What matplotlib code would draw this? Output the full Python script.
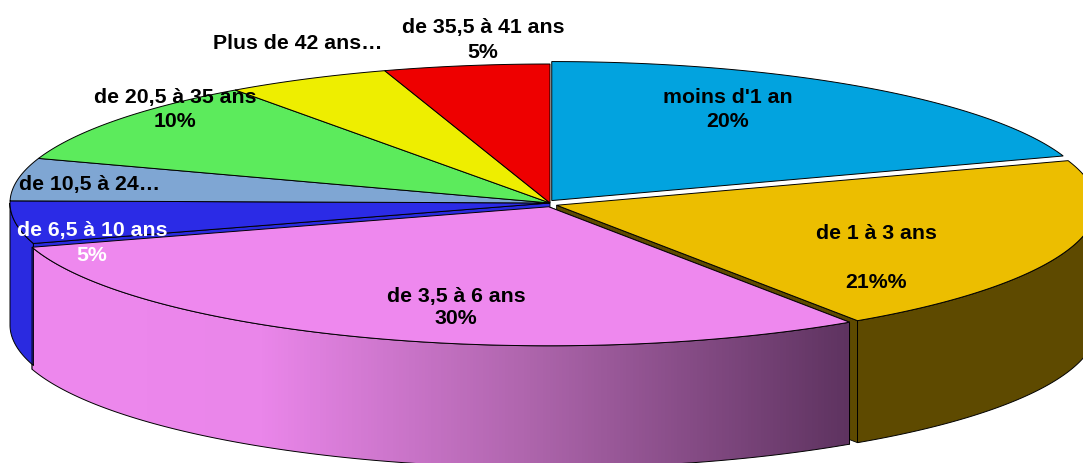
import numpy as np
import matplotlib.pyplot as plt
from matplotlib.patches import Polygon
import matplotlib.colors as mcolors

# 3D pie of age groups, drawn by hand (matplotlib has no 3D pie)

labels = ["moins d'1 an", "de 1 à 3 ans", "de 3,5 à 6 ans", "de 6,5 à 10 ans",
          "de 10,5 à 24…", "de 20,5 à 35 ans", "Plus de 42 ans…", "de 35,5 à 41 ans"]
values = [20, 21, 30, 5, 5, 10, 5, 5]
pct_text = ["20%", "21%%", "30%", "5%", "", "10%", "", "5%"]

top_colors = ["#02A3DF", "#ECBE00", "#EE88EE", "#2B2BE6",
              "#7FA6D3", "#5CEB5C", "#EEEE00", "#EE0000"]
side_colors = ["#015E82", "#5E4A00", "#EE88EE", "#2A2AE0",
               "#4A6A90", "#339933", "#8A8A00", "#8A0000"]
text_colors = ["black", "black", "black", "white", "black", "black", "black", "black"]

# layout (pixel space of the output image)
W, H = 1083, 463
cx, cy = 550, 203
a, b = 540, 139
depth = 122
explode = [3, 7, 4, 0, 0, 0, 0, 0]
# (x centre, baseline of name, baseline of percent)
label_pos = [(728, 103, 127), (876, 239, 288), (456, 302, 324), (92, 236, 261),
             (90, 190, None), (175, 103, 127), (298, 49, None), (483, 33, 58)]

fig = plt.figure(figsize=(W / 100, H / 100), dpi=100)
ax = fig.add_axes([0, 0, 1, 1])
ax.set_xlim(0, W)
ax.set_ylim(H, 0)
ax.axis("off")

total = float(sum(values))
cum = np.concatenate([[0], np.cumsum(values)])
starts = 90 - 360 * cum[:-1] / total
ends = 90 - 360 * cum[1:] / total


def rim(th, ox, oy, drop=0):
    t = np.radians(th)
    return cx + a * np.cos(t) + ox, cy - b * np.sin(t) + oy + drop


offsets = []
for i in range(len(values)):
    mid = np.radians((starts[i] + ends[i]) / 2)
    offsets.append((explode[i] * np.cos(mid), -explode[i] * np.sin(mid)))

# radial cut faces (only the ones on the front half can be seen)
for i in range(len(values)):
    ox, oy = offsets[i]
    for th in (starts[i], ends[i]):
        if not (-180 < th < 0):
            continue
        x, y = rim(th, ox, oy)
        pts = [(cx + ox, cy + oy), (x, y), (x, y + depth), (cx + ox, cy + oy + depth)]
        ax.add_patch(Polygon(pts, closed=True, facecolor=side_colors[i],
                             edgecolor="black", lw=0.6, zorder=1))

# curved front sides
grad = mcolors.LinearSegmentedColormap.from_list(
    "pinkside", [(0, "#EE88EE"), (0.28, "#EA86EA"), (0.6, "#B066AE"), (1, "#5E3360")])
for i in range(len(values)):
    lo, hi = max(ends[i], -180), min(starts[i], 0)
    if lo >= hi:
        continue
    ox, oy = offsets[i]
    th = np.linspace(hi, lo, 120)
    xt, yt = rim(th, ox, oy)
    xb, yb = rim(th[::-1], ox, oy, depth)
    pts = np.column_stack([np.concatenate([xt, xb]), np.concatenate([yt, yb])])
    if i == 2:
        poly = Polygon(pts, closed=True, facecolor="none", edgecolor="black",
                       lw=0.7, zorder=3)
        ax.add_patch(poly)
        x0, x1 = pts[:, 0].min(), pts[:, 0].max()
        g = np.linspace(0, 1, 256).reshape(1, -1)
        im = ax.imshow(g, cmap=grad, aspect="auto", zorder=2,
                       extent=[x0, x1, pts[:, 1].max(), pts[:, 1].min()])
        im.set_clip_path(poly)
    else:
        ax.add_patch(Polygon(pts, closed=True, facecolor=side_colors[i],
                             edgecolor="black", lw=0.7, zorder=2))

# top faces
for i in range(len(values)):
    ox, oy = offsets[i]
    th = np.linspace(starts[i], ends[i], 150)
    xt, yt = rim(th, ox, oy)
    pts = np.column_stack([np.concatenate([[cx + ox], xt]),
                           np.concatenate([[cy + oy], yt])])
    ax.add_patch(Polygon(pts, closed=True, facecolor=top_colors[i],
                         edgecolor="black", lw=0.7, zorder=4))

# labels
font = dict(fontsize=15.3, fontweight="bold", family="Liberation Sans",
            ha="center", va="baseline", zorder=6)
for i in range(len(values)):
    x, y1, y2 = label_pos[i]
    ax.text(x, y1, labels[i], color=text_colors[i], **font)
    if y2 is not None:
        ax.text(x, y2, pct_text[i], color=text_colors[i], **font)

fig.savefig("out.png", dpi=100)
